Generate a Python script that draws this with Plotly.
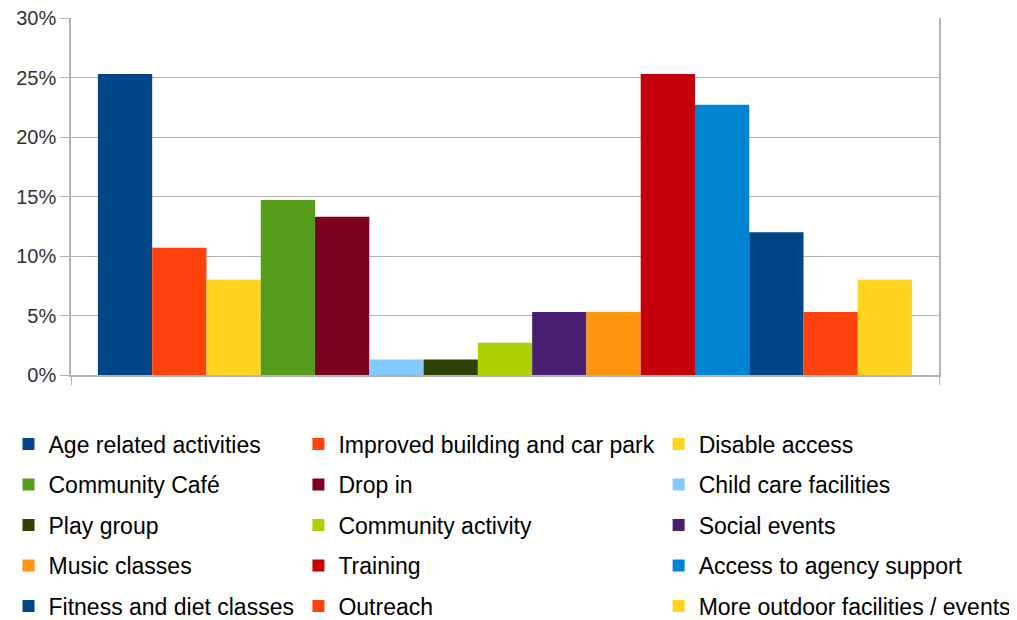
import plotly.graph_objects as go

categories = [
    "Age related activities", "Improved building and car park", "Disable access",
    "Community Café", "Drop in", "Child care facilities",
    "Play group", "Community activity", "Social events",
    "Music classes", "Training", "Access to agency support",
    "Fitness and diet classes", "Outreach", "More outdoor facilities / events",
]
values = [0.253, 0.107, 0.080, 0.147, 0.133, 0.013, 0.013, 0.027, 0.053,
          0.053, 0.253, 0.227, 0.120, 0.053, 0.080]
colors = ["#004586", "#ff420e", "#ffd320", "#579d1c", "#7e0021", "#83caff",
          "#314004", "#aecf00", "#4b1f6f", "#ff950e", "#c5000b", "#0084d1",
          "#004586", "#ff420e", "#ffd320"]

legend_ids = ["legend", "legend2", "legend3"]

fig = go.Figure()
for i, (name, val, col) in enumerate(zip(categories, values, colors)):
    fig.add_trace(go.Bar(
        x=[""], y=[val], name=name,
        marker=dict(color=col, line=dict(width=0)),
        legend=legend_ids[i % 3], legendgroup=name,
    ))

leg_font = dict(family="Liberation Sans, Arial, sans-serif", size=23, color="#000000")
legend_common = dict(orientation="v", yanchor="top", xanchor="left", y=-0.133,
                     font=leg_font, tracegroupgap=7.6, bgcolor="rgba(0,0,0,0)")

# the page body adds an 8px offset, so margins are shifted to compensate
fig.update_layout(
    width=1017, height=620,
    margin=dict(l=63, r=86, t=10, b=253, autoexpand=False),
    paper_bgcolor="white", plot_bgcolor="white",
    barmode="group", bargap=0.062, bargroupgap=0,
    showlegend=True,
    legend=dict(x=-0.072, **legend_common),
    legend2=dict(x=0.262, **legend_common),
    legend3=dict(x=0.677, **legend_common),
    font=dict(family="Liberation Sans, Arial, sans-serif", color="#333333"),
    yaxis=dict(range=[0, 0.3], dtick=0.05, tickformat=".0%",
               showgrid=True, gridcolor="#b3b3b3", gridwidth=1,
               showline=True, linecolor="#b3b3b3", linewidth=1.5, mirror=True,
               ticks="outside", ticklen=9, tickcolor="#b3b3b3",
               ticklabeloverflow="allow",
               tickfont=dict(size=20, color="#333333"), zeroline=False),
    xaxis=dict(type="category", showline=True, linecolor="#b3b3b3", linewidth=1.5,
               ticks="outside", tickson="boundaries", ticklen=8, tickcolor="#b3b3b3",
               showticklabels=False, showgrid=False),
)

fig.write_html("out.html")
